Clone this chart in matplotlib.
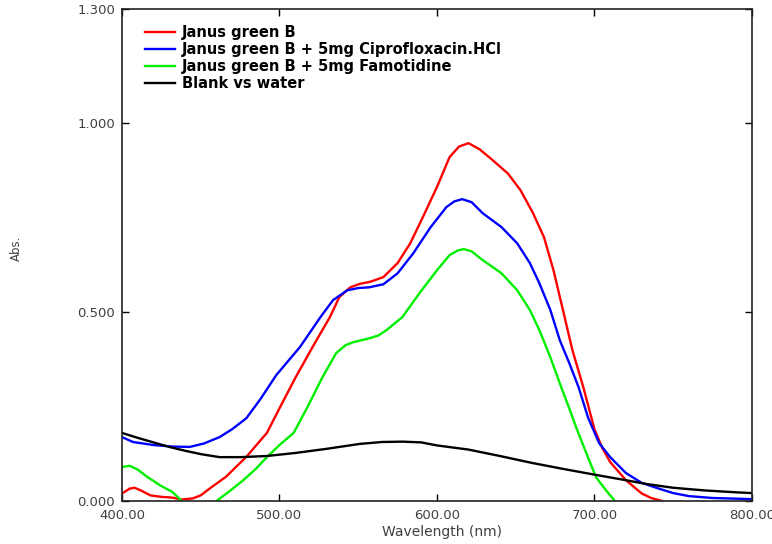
import matplotlib
matplotlib.use("Agg")
import matplotlib.pyplot as plt

plt.rcParams["font.family"] = ["DejaVu Sans"]

# --- Spectra (wavelength nm, absorbance) ---
jgb_wl = [400, 405, 408, 412, 418, 425, 432, 438, 445, 450, 456, 466, 479, 492, 500,
          510, 521, 532, 538, 545, 551, 558, 566, 575, 583, 591, 600, 608, 614, 620,
          627, 634, 645, 653, 661, 668, 674, 680, 686, 693, 700, 705, 710, 720, 730,
          736, 743, 750]
jgb_abs = [0.020, 0.033, 0.035, 0.028, 0.015, 0.011, 0.009, 0.004, 0.007, 0.015, 0.034,
           0.064, 0.117, 0.180, 0.245, 0.325, 0.407, 0.486, 0.539, 0.565, 0.574, 0.580,
           0.592, 0.629, 0.681, 0.750, 0.830, 0.909, 0.937, 0.946, 0.930, 0.906, 0.866,
           0.822, 0.761, 0.697, 0.610, 0.505, 0.399, 0.300, 0.190, 0.140, 0.103, 0.055,
           0.020, 0.008, 0.000, -0.010]

cipro_wl = [400, 407, 420, 432, 443, 452, 462, 470, 479, 488, 498, 513, 526, 534, 543,
            550, 557, 566, 575, 585, 596, 606, 611, 616, 622, 629, 641, 651, 659, 665,
            672, 678, 684, 690, 696, 703, 710, 720, 730, 740, 750, 760, 775, 800]
cipro_abs = [0.169, 0.156, 0.148, 0.144, 0.143, 0.152, 0.169, 0.190, 0.219, 0.270,
             0.333, 0.407, 0.486, 0.531, 0.557, 0.563, 0.565, 0.573, 0.602, 0.655,
             0.724, 0.777, 0.792, 0.798, 0.790, 0.761, 0.724, 0.681, 0.629, 0.576,
             0.505, 0.425, 0.365, 0.300, 0.220, 0.153, 0.116, 0.074, 0.048, 0.034,
             0.021, 0.013, 0.008, 0.005]

famo_wl = [400, 405, 410, 416, 424, 432, 438, 445, 452, 460, 468, 477, 485, 492, 500,
           509, 518, 527, 536, 542, 547, 557, 563, 568, 578, 589, 600, 608, 613, 617,
           622, 629, 641, 651, 659, 665, 672, 679, 684, 689, 695, 701, 707, 713, 720]
famo_abs = [0.090, 0.093, 0.083, 0.064, 0.042, 0.024, 0.000, -0.020, -0.020, 0.000,
            0.025, 0.055, 0.085, 0.116, 0.148, 0.180, 0.250, 0.325, 0.391, 0.412,
            0.420, 0.430, 0.438, 0.452, 0.486, 0.550, 0.610, 0.650, 0.662, 0.666,
            0.660, 0.637, 0.602, 0.557, 0.505, 0.452, 0.380, 0.300, 0.245, 0.188,
            0.125, 0.063, 0.030, 0.000, -0.030]

blank_wl = [400, 410, 420, 430, 440, 450, 462, 475, 492, 510, 530, 551, 565, 578, 590,
            600, 620, 640, 660, 680, 701, 720, 733, 750, 770, 790, 800]
blank_abs = [0.180, 0.167, 0.155, 0.143, 0.133, 0.124, 0.116, 0.116, 0.119, 0.127,
             0.138, 0.151, 0.156, 0.157, 0.155, 0.147, 0.136, 0.119, 0.101, 0.085,
             0.069, 0.055, 0.045, 0.035, 0.028, 0.023, 0.021]

labels = ["Janus green B",
          "Janus green B + 5mg Ciprofloxacin.HCl",
          "Janus green B + 5mg Famotidine",
          "Blank vs water"]
x_ticks = [400, 500, 600, 700, 800]
y_ticks = [0.0, 0.5, 1.0, 1.3]

fig = plt.figure(figsize=(7.72, 5.44), dpi=100)
ax = fig.add_axes([0.158, 0.079, 0.816, 0.904])

series = [(jgb_wl, jgb_abs, "#ff0000"),
          (cipro_wl, cipro_abs, "#0000ff"),
          (famo_wl, famo_abs, "#00ee00"),
          (blank_wl, blank_abs, "#000000")]
for (wl, ab, col), lab in zip(series, labels):
    ax.plot(wl, ab, color=col, lw=1.7, label=lab)

ax.set_xlim(400, 800)
ax.set_ylim(0, 1.3)
ax.set_xticks(x_ticks)
ax.set_xticklabels([f"{v:.2f}" for v in x_ticks])
ax.set_yticks(y_ticks)
ax.set_yticklabels([f"{v:.3f}" for v in y_ticks])
ax.tick_params(direction="in", top=True, right=True, length=5, width=1,
               labelsize=9.5, labelcolor="#404040")
ax.tick_params(axis="x", pad=6)
ax.tick_params(axis="y", pad=5)
for s in ax.spines.values():
    s.set_linewidth(1.2)
    s.set_color("#222222")

fig.text(442 / 772, 1 - 532 / 544, "Wavelength (nm)", fontsize=10, color="#404040",
         ha="center", va="center")
fig.text(0.021, 0.544, "Abs.", rotation=90, fontsize=8.5, color="#404040",
         ha="center", va="center")

ax.legend(loc="upper left", frameon=False, prop={"weight": "bold", "size": 10.5},
          handlelength=2.05, handletextpad=0.5, labelspacing=0.13,
          borderpad=0, borderaxespad=0, bbox_to_anchor=(0.0365, 0.968))

fig.savefig("out.png", dpi=100)
